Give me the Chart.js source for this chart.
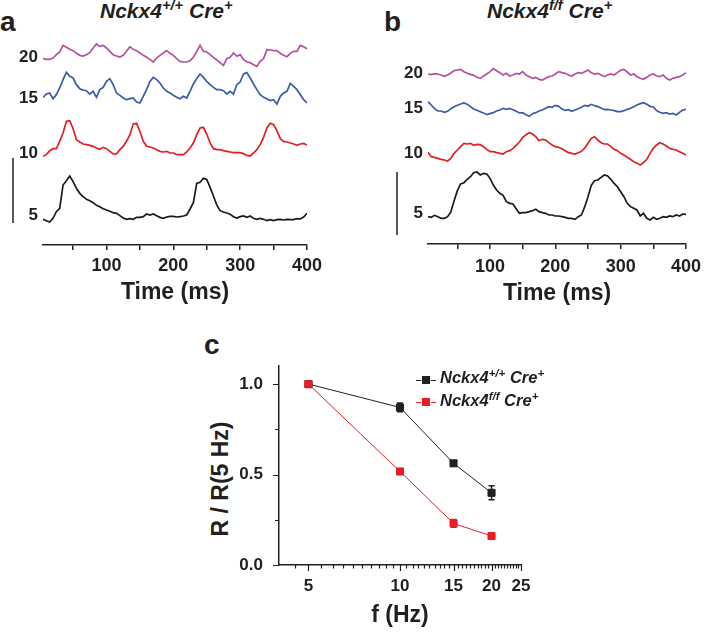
<!DOCTYPE html>
<html>
<head>
<meta charset="utf-8">
<script src="https://cdn.jsdelivr.net/npm/chart.js@4.4.1/dist/chart.umd.min.js"></script>
<style>
  body { margin: 0; background: #fff; }
  #wrap { position: relative; width: 708px; height: 634px; overflow: hidden;
          font-family: 'Liberation Sans', Arial, sans-serif; color: #231f20; }
  canvas { position: absolute; }
  .t { position: absolute; white-space: nowrap; line-height: 1; font-weight: bold; }
  .t sup { font-size: 0.7em; vertical-align: 0.55em; line-height: 0; }
  .it { font-style: italic; }
  .mk { position: absolute; height: 0; width: 5px; border-top: 1.3px solid; }
  .sq { position: absolute; width: 8px; height: 8px; }
</style>
</head>
<body>
<div id="wrap">
  <div class="t" style="left:0px;top:8px;font-size:28px">a</div>
  <div class="t it" style="left:100px;top:0px;font-size:21px">Nckx4<sup>+/+</sup> Cre<sup>+</sup></div>
  <div class="t" style="left:384px;top:8px;font-size:28px">b</div>
  <div class="t it" style="left:487px;top:0px;font-size:21px">Nckx4<sup>f/f</sup> Cre<sup>+</sup></div>
  <div class="t" style="left:204px;top:331px;font-size:28px">c</div>
  <div class="t" style="left:220px;top:479px;font-size:23px;transform:translate(-50%,-50%) rotate(-90deg)">R / R(5 Hz)</div>

  <canvas id="chartA" width="330" height="310" style="left:0px;top:0px"></canvas>
  <canvas id="chartB" width="348" height="310" style="left:360px;top:0px"></canvas>
  <canvas id="chartC" width="370" height="314" style="left:190px;top:320px"></canvas>

  <!-- legend for c -->
  <div class="mk" style="left:416px;top:380px;border-color:#231f20"></div>
  <div class="sq" style="left:422px;top:376px;background:#231f20"></div>
  <div class="mk" style="left:431px;top:380px;border-color:#231f20"></div>
  <div class="t it" style="left:440px;top:369px;font-size:16.5px">Nckx4<sup>+/+</sup> Cre<sup>+</sup></div>
  <div class="mk" style="left:416px;top:402px;border-color:#e31e24"></div>
  <div class="sq" style="left:422px;top:398px;background:#e31e24"></div>
  <div class="mk" style="left:431px;top:402px;border-color:#e31e24"></div>
  <div class="t it" style="left:440px;top:392px;font-size:16.5px">Nckx4<sup>f/f</sup> Cre<sup>+</sup></div>
</div>

<script>
// sample times of the traces (ms)
const timeMs = [5,10,15,20,25,30,35,40,45,50,55,60,65,70,75,80,85,90,95,100,
  105,110,115,120,125,130,135,140,145,150,155,160,165,170,175,180,185,190,195,200,
  205,210,215,220,225,230,235,240,245,250,255,260,265,270,275,280,285,290,295,300,
  305,310,315,320,325,330,335,340,345,350,355,360,365,370,375,380,385,390,395,400];

const traceLabels = ['20', '15', '10', '5'];   // stimulus frequency, Hz

// panel a, Nckx4 +/+ Cre+  (arbitrary amplitude units)
const a20 = [38,36,36,40,50,58,78,72,66,62, 54,48,46,50,56,70,82,75,78,70,
  60,50,46,43,48,60,74,66,62,55, 48,42,36,28,40,48,55,62,54,48,
  38,30,28,28,32,42,60,78,60,58, 50,42,34,26,18,38,42,55,45,50,
  36,28,26,20,15,30,38,65,64,62, 62,54,48,44,54,60,60,78,74,68];
const a15 = [22,32,35,18,30,50,75,97,85,80, 60,48,44,42,32,40,22,45,52,70,
  78,60,35,28,20,15,18,20,8,5, 25,45,70,82,75,65,50,40,35,28,
  22,18,25,20,40,62,78,92,82,70, 60,52,45,45,42,32,40,32,60,68,
  92,96,80,62,45,30,22,18,12,15, 2,25,35,40,64,55,45,30,15,5];
const a10 = [5,10,22,28,28,50,75,110,112,88, 55,48,42,40,38,35,30,26,32,28,
  20,12,12,25,35,50,70,102,104,80, 50,35,33,30,25,20,18,20,15,15,
  10,10,10,18,30,45,70,90,92,72, 45,28,25,25,22,20,18,16,16,16,
  13,8,6,15,25,40,62,90,104,100, 82,58,50,48,45,42,38,42,44,38];
const a5 = [22,18,14,25,45,55,125,138,152,135, 115,100,90,82,78,72,64,60,54,50,
  46,42,40,33,26,22,24,22,28,28, 30,38,35,38,33,28,25,29,31,31,
  29,30,32,35,53,72,130,133,145,142, 118,92,65,48,44,41,37,30,26,30,
  32,28,32,25,22,25,22,18,21,18, 21,22,20,22,21,21,24,23,29,40];

// panel b, Nckx4 f/f Cre+
const b20 = [28,26,29,28,25,21,25,31,38,40, 42,35,30,27,24,18,15,22,28,35,
  44,38,32,25,30,22,25,30,28,35, 25,20,15,18,12,10,15,20,22,28,
  35,32,30,25,22,28,32,30,35,40, 32,28,30,25,20,25,28,25,32,40,
  42,34,25,28,20,15,12,18,25,28, 22,20,25,15,10,15,18,20,25,32];
const b15 = [55,45,34,27,27,23,26,34,40,44, 48,51,47,40,33,29,25,21,16,19,
  22,27,30,35,32,35,31,26,21,22, 16,11,19,22,27,30,35,40,38,44,
  41,33,29,31,26,30,34,38,44,41, 47,43,40,36,31,32,30,28,25,25,
  28,32,35,40,45,49,52,47,41,39, 28,23,20,22,18,20,15,23,30,32];
const b10 = [43,30,28,25,22,20,17,25,40,50, 60,70,68,70,64,67,66,60,52,45,
  45,42,40,38,45,48,54,64,74,87, 96,102,98,90,78,82,80,72,65,60,
  58,54,48,42,40,38,42,46,56,70, 85,90,80,72,68,68,60,52,48,40,
  35,28,22,15,10,5,12,22,40,55, 65,72,68,62,55,52,50,45,40,35];
const b5 = [30,28,34,30,25,25,30,44,78,108, 128,132,142,150,162,164,155,160,158,145,
  125,110,100,94,75,70,68,54,40,42, 42,45,48,52,45,42,40,35,35,32,
  32,30,28,25,25,22,30,35,60,90, 124,138,140,148,155,152,142,130,120,105,
  90,70,60,55,50,32,40,25,20,28, 22,25,30,28,32,30,35,32,38,37];

const timeTicks = [50,100,150,200,250,300,350,400];
const timeLabels = [100,200,300,400];

// panel c
const freqHz = [5, 10, 15, 20];
const wtMean = [1.0, 0.871, 0.562, 0.399];
const wtErr  = [0, 0.024, 0.010, 0.039];
const koMean = [1.0, 0.517, 0.230, 0.160];
const koErr  = [0, 0.012, 0.022, 0.010];
const fTicks = [5, 10, 15, 20, 25];
const rTicks = [0, 0.5, 1.0];
const rMinor = [0.25, 0.75];

// ---- layout / style ----
const F = "'Liberation Sans', Arial, sans-serif";
const INK = '#231f20';
const traceColors = ['#b5509f', '#3c5aa8', '#e31e24', '#1a1a1a'];
Chart.defaults.font.family = F;
Chart.defaults.color = INK;

function scaleBar(bar) {
  return {
    id: 'scalebar',
    afterDraw(chart) {
      const ctx = chart.ctx, y = chart.scales.y;
      ctx.save();
      ctx.strokeStyle = INK;
      ctx.lineWidth = 1.5;
      ctx.beginPath();
      ctx.moveTo(bar.x, y.getPixelForValue(bar.from));
      ctx.lineTo(bar.x, y.getPixelForValue(bar.to));
      ctx.stroke();
      ctx.restore();
    }
  };
}

function tracePanel(id, traces, offs, labPos, bar, lay) {
  new Chart(document.getElementById(id), {
    type: 'line',
    data: {
      datasets: traces.map((tr, k) => ({
        data: timeMs.map((t, i) => ({x: t, y: offs[k] + tr[i]})),
        borderColor: traceColors[k],
        borderWidth: 1.7,
        pointRadius: 0,
        tension: 0
      }))
    },
    options: {
      responsive: false,
      animation: false,
      layout: {padding: {top: 35, right: lay.padRight, left: 0, bottom: 0}},
      plugins: {legend: {display: false}, tooltip: {enabled: false}},
      scales: {
        x: {
          type: 'linear', min: 5, max: 400,
          afterBuildTicks: s => { s.ticks = timeTicks.map(v => ({value: v})); },
          afterFit: s => { s.height = lay.xAxisH; },
          ticks: {
            callback: v => timeLabels.includes(v) ? String(v) : '',
            font: {size: 18, weight: 'bold'}, color: INK,
            padding: lay.tickPad, autoSkip: false, maxRotation: 0
          },
          grid: {drawOnChartArea: false, drawTicks: true, tickLength: 5, color: INK, lineWidth: 1.5},
          border: {color: INK, width: 1.5},
          title: {display: true, text: 'Time (ms)', font: {size: 23, weight: 'bold'},
                  color: INK, padding: {top: 0, bottom: lay.titlePad}}
        },
        y: {
          min: lay.yMin, max: 645,
          afterBuildTicks: s => { s.ticks = labPos.map(v => ({value: v})); },
          afterFit: s => { s.width = lay.yAxisW; },
          ticks: {
            callback: (v, i) => traceLabels[i],
            font: {size: 17, weight: 'bold'}, color: INK, padding: 5, autoSkip: false
          },
          grid: {display: false, drawTicks: false},
          border: {display: false}
        }
      }
    },
    plugins: [scaleBar(bar)]
  });
}

tracePanel('chartA', [a20, a15, a10, a5], [536, 436, 276, 70], [579, 456, 291, 105],
  {x: 13, from: 81, to: 276},
  {padRight: 23, xAxisH: 65, tickPad: 5, titlePad: 4, yMin: 15, yAxisW: 43});

tracePanel('chartB', [b20, b15, b10, b5], [500, 390, 250, 70], [531, 426, 291, 111],
  {x: 37, from: 45, to: 234},
  {padRight: 15, xAxisH: 66, tickPad: 7, titlePad: 3, yMin: 18, yAxisW: 68});

// panel c
const errorBars = {
  id: 'errorbars',
  beforeDatasetsDraw(chart) {
    const {ctx, scales: {x, y}} = chart;
    chart.data.datasets.forEach(ds => {
      ctx.save();
      ctx.strokeStyle = ds.borderColor;
      ctx.lineWidth = 1.5;
      ctx.beginPath();
      ds.data.forEach((p, i) => {
        const e = ds.err[i];
        if (!e) return;
        const px = x.getPixelForValue(p.x);
        const y1 = y.getPixelForValue(p.y + e), y2 = y.getPixelForValue(p.y - e);
        ctx.moveTo(px, y1); ctx.lineTo(px, y2);
        ctx.moveTo(px - 3, y1); ctx.lineTo(px + 3, y1);
        ctx.moveTo(px - 3, y2); ctx.lineTo(px + 3, y2);
      });
      ctx.stroke();
      ctx.restore();
    });
  }
};

const tickMarks = {
  id: 'tickmarks',
  afterDraw(chart) {
    const {ctx, scales: {x, y}, chartArea: a} = chart;
    ctx.save();
    ctx.strokeStyle = INK;
    ctx.lineWidth = 1.2;
    ctx.beginPath();
    for (let v = 4.5; v <= 25.001; v += 0.5) {
      const px = Math.round(x.getPixelForValue(v)) + 0.5;
      const len = fTicks.includes(v) ? 6 : 3.5;
      ctx.moveTo(px, a.bottom); ctx.lineTo(px, a.bottom + len);
    }
    rTicks.concat(rMinor).forEach(v => {
      const py = Math.round(y.getPixelForValue(v)) + 0.5;
      const len = rTicks.includes(v) ? 6 : 4;
      ctx.moveTo(a.left, py); ctx.lineTo(a.left - len, py);
    });
    ctx.stroke();
    ctx.restore();
  }
};

new Chart(document.getElementById('chartC'), {
  type: 'line',
  data: {
    datasets: [
      {data: freqHz.map((f, i) => ({x: f, y: wtMean[i]})), err: wtErr,
       borderColor: INK, backgroundColor: INK, borderWidth: 1,
       pointStyle: 'rect', pointRadius: 5, pointBorderWidth: 1, order: 2},
      {data: freqHz.map((f, i) => ({x: f, y: koMean[i]})), err: koErr,
       borderColor: '#e31e24', backgroundColor: '#e31e24', borderWidth: 1,
       pointStyle: 'rect', pointRadius: 5, pointBorderWidth: 1, order: 1}
    ]
  },
  options: {
    responsive: false,
    animation: false,
    layout: {padding: {top: 46, right: 39, left: 0, bottom: 0}},
    plugins: {legend: {display: false}, tooltip: {enabled: false}},
    scales: {
      x: {
        type: 'logarithmic', min: 4, max: 25,
        afterBuildTicks: s => { s.ticks = fTicks.map(v => ({value: v})); },
        afterFit: s => { s.height = 69; },
        ticks: {callback: v => String(v), font: {size: 17, weight: 'bold'}, color: INK,
                padding: 11, autoSkip: false, maxRotation: 0},
        grid: {display: false, drawTicks: false},
        border: {color: INK, width: 1.5},
        title: {display: true, text: 'f (Hz)', font: {size: 23, weight: 'bold'},
                color: INK, padding: {top: 0, bottom: 5}}
      },
      y: {
        min: 0, max: 1.1,
        afterBuildTicks: s => { s.ticks = rTicks.map(v => ({value: v})); },
        afterFit: s => { s.width = 89; },
        ticks: {callback: v => v.toFixed(1), font: {size: 17, weight: 'bold'}, color: INK,
                padding: 16, autoSkip: false},
        grid: {display: false, drawTicks: false},
        border: {color: INK, width: 1.5}
      }
    }
  },
  plugins: [errorBars, tickMarks]
});
</script>
</body>
</html>
